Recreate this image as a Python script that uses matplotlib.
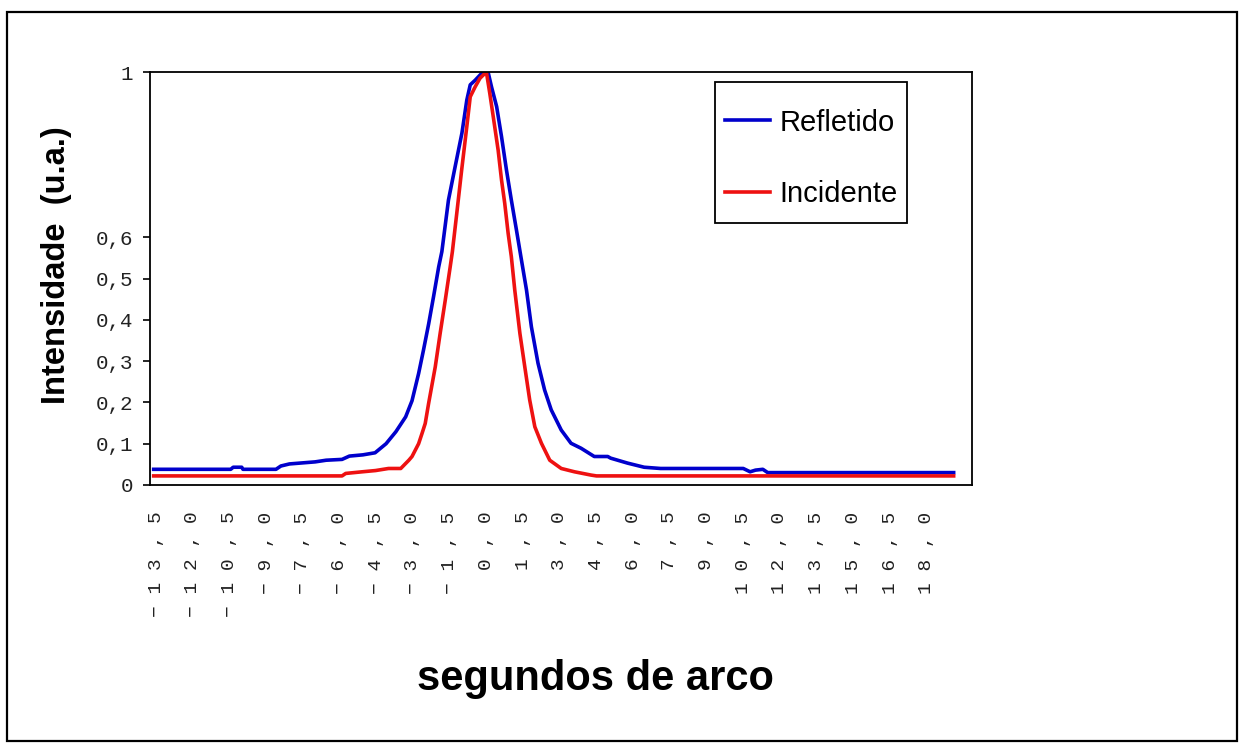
import matplotlib
matplotlib.use("Agg")
import matplotlib.pyplot as plt
from matplotlib.lines import Line2D
from matplotlib.patches import Rectangle

# curve readings: position (segundos de arco) and normalised intensity
refletido_x = [-13.6, -10.45, -10.35, -10.0, -9.95, -8.6, -8.4, -8.05, -7.0, -6.55,
               -5.9, -5.6, -5.05, -4.55, -4.1, -3.7, -3.3, -3.04, -2.77, -2.57,
               -2.36, -2.16, -1.95, -1.82, -1.55, -1.28, -1.0, -0.8, -0.66, -0.46,
               -0.19, 0.0, 0.08, 0.21, 0.42, 0.62, 0.82, 1.02, 1.23, 1.41,
               1.64, 1.84, 2.11, 2.38, 2.65, 3.06, 3.46, 3.87, 4.41, 4.96,
               5.08, 5.77, 6.45, 7.12, 10.5, 10.78, 11.0, 11.3, 11.5, 19.1]
refletido_y = [0.038, 0.038, 0.043, 0.043, 0.038, 0.038, 0.046, 0.051, 0.056, 0.060,
               0.062, 0.070, 0.073, 0.078, 0.100, 0.129, 0.165, 0.204, 0.270, 0.327,
               0.390, 0.456, 0.528, 0.565, 0.690, 0.770, 0.852, 0.932, 0.969, 0.980,
               0.997, 1.000, 0.997, 0.964, 0.916, 0.843, 0.763, 0.690, 0.617, 0.553,
               0.472, 0.383, 0.295, 0.230, 0.182, 0.133, 0.101, 0.089, 0.069, 0.069,
               0.065, 0.053, 0.043, 0.040, 0.040, 0.032, 0.036, 0.038, 0.030, 0.030]

incidente_x = [-13.6, -5.9, -5.75, -5.07, -4.53, -4.0, -3.5, -3.17, -3.04, -2.77,
               -2.63, -2.5, -2.36, -2.09, -1.89, -1.68, -1.48, -1.39, -1.21, -1.01,
               -0.8, -0.66, -0.46, -0.26, 0.0, 0.14, 0.28, 0.48, 0.62, 0.75,
               0.89, 1.02, 1.16, 1.37, 1.57, 1.77, 1.98, 2.25, 2.59, 3.06,
               3.6, 4.28, 4.5, 19.1]
incidente_y = [0.022, 0.022, 0.028, 0.032, 0.035, 0.040, 0.040, 0.060, 0.069, 0.100,
               0.125, 0.149, 0.198, 0.286, 0.367, 0.448, 0.528, 0.565, 0.658, 0.763,
               0.868, 0.940, 0.964, 0.985, 1.000, 0.948, 0.892, 0.811, 0.738, 0.682,
               0.609, 0.553, 0.472, 0.367, 0.286, 0.206, 0.141, 0.101, 0.060, 0.040,
               0.032, 0.024, 0.022, 0.022]

x_ticks = [-13.5, -12.0, -10.5, -9.0, -7.5, -6.0, -4.5, -3.0, -1.5, 0.0, 1.5,
           3.0, 4.5, 6.0, 7.5, 9.0, 10.5, 12.0, 13.5, 15.0, 16.5, 18.0]
y_ticks = [0, 0.1, 0.2, 0.3, 0.4, 0.5, 0.6, 1]
y_ticklabels = ["0", "0,1", "0,2", "0,3", "0,4", "0,5", "0,6", "1"]


def spaced(v):
    s = f"{v:.1f}".replace(".", ",").replace("-", "\u2212")
    return " ".join(s)


W, H = 1244, 751
fig = plt.figure(figsize=(W / 100, H / 100), dpi=100)
ax = fig.add_axes([150 / W, 1 - 485 / H, 822 / W, 413 / H])

ax.plot(refletido_x, refletido_y, color="#0000cc", lw=2.6, label="Refletido")
ax.plot(incidente_x, incidente_y, color="#ee1111", lw=2.6, label="Incidente")

ax.set_xlim(-13.75, 19.85)
ax.set_ylim(0, 1)

ax.set_yticks(y_ticks)
ax.set_yticklabels(y_ticklabels, fontdict=dict(family="Liberation Mono", size=15, color="#222222"))
ax.set_xticks(x_ticks)
ax.set_xticklabels([spaced(v) for v in x_ticks], rotation=90,
                   fontdict=dict(family="Liberation Mono", size=14, color="#222222"))
ax.tick_params(axis="y", length=5, width=1.2, pad=7, direction="out")
ax.tick_params(axis="x", length=0, pad=19)
for sp in ax.spines.values():
    sp.set_linewidth(1.3)
    sp.set_color("black")

fig.text(57 / W, 1 - 265 / H, "Intensidade  (u.a.)", rotation=90,
         ha="center", va="center", fontsize=23.5, fontweight="bold",
         family="Liberation Sans")
fig.text(595 / W, 1 - 679 / H, "segundos de arco", ha="center", va="center",
         fontsize=30, fontweight="bold", family="Liberation Sans")

# legend entries without frame, box drawn separately
handles = [Line2D([], [], color="#0000cc", lw=2.6),
           Line2D([], [], color="#ee1111", lw=2.6)]
ax.legend(handles, ["Refletido", "Incidente"], loc="upper left",
          bbox_to_anchor=(715 / W, 1 - 99 / H), bbox_transform=fig.transFigure,
          frameon=False, borderaxespad=0,
          handlelength=1.55, handletextpad=0.33, labelspacing=1.5,
          borderpad=0.33, prop=dict(family="Liberation Sans", size=21))
fig.patches.append(Rectangle((715 / W, 1 - 223 / H), 192 / W, 141 / H,
                             transform=fig.transFigure, fill=False,
                             edgecolor="black", lw=1.3))

# outer chart border
fig.patches.append(Rectangle((7 / W, 1 - 741 / H), 1230 / W, 729 / H,
                             transform=fig.transFigure, fill=False,
                             edgecolor="black", lw=1.6))

fig.savefig("out.png", dpi=100)
